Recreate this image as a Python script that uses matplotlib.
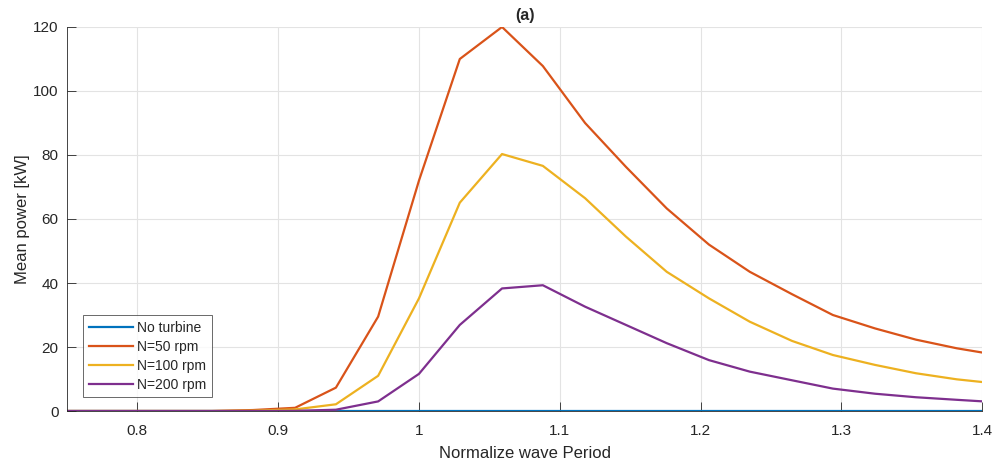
import matplotlib.pyplot as plt

plt.rcParams['font.family'] = ['Liberation Sans', 'DejaVu Sans']

# Normalized wave period (T / Tn)
period = [0.735, 0.765, 0.794, 0.824, 0.853, 0.882, 0.912, 0.941, 0.971,
          1.000, 1.029, 1.059, 1.088, 1.118, 1.147, 1.176, 1.206, 1.235,
          1.265, 1.294, 1.324, 1.353, 1.382, 1.412]

# Mean power [kW]
p_none = [0.0] * len(period)
p_50 = [0.0, 0.0, 0.0, 0.0, 0.0, 0.3, 1.0, 7.3, 29.5,
        72.0, 110.0, 120.0, 107.8, 90.0, 76.3, 63.3, 52.0, 43.5,
        36.5, 30.0, 25.8, 22.3, 19.6, 17.4]
p_100 = [0.0, 0.0, 0.0, 0.0, 0.0, 0.1, 0.5, 2.1, 11.0,
         35.2, 65.1, 80.3, 76.6, 66.5, 54.5, 43.5, 35.2, 27.9,
         21.9, 17.5, 14.4, 11.8, 9.9, 8.5]
p_200 = [0.0, 0.0, 0.0, 0.0, 0.0, 0.0, 0.05, 0.4, 3.0,
         11.6, 26.9, 38.3, 39.3, 32.6, 26.9, 21.2, 15.9, 12.3,
         9.6, 7.0, 5.4, 4.3, 3.5, 2.7]

labels = ['No turbine', 'N=50 rpm', 'N=100 rpm', 'N=200 rpm']
colors = ['#0072BD', '#D95319', '#EDB120', '#7E2F8E']

fig = plt.figure(figsize=(9.93, 4.63), dpi=100)
ax = fig.add_axes([0.0675, 0.1123, 0.9215, 0.8294])

for y, lab, c in zip([p_none, p_50, p_100, p_200], labels, colors):
    ax.plot(period, y, color=c, lw=1.6, label=lab)

ax.set_xlim(0.75, 1.4)
ax.set_ylim(0, 120)
ax.set_xticks([0.8, 0.9, 1.0, 1.1, 1.2, 1.3, 1.4])
ax.set_xticklabels(['0.8', '0.9', '1', '1.1', '1.2', '1.3', '1.4'])
ax.set_yticks(range(0, 121, 20))

ax.grid(True, color='#e3e3e3', lw=0.8)
ax.set_axisbelow(True)
for s in ['top', 'right']:
    ax.spines[s].set_visible(False)
for s in ['left', 'bottom']:
    ax.spines[s].set_color('#262626')
    ax.spines[s].set_linewidth(0.6)
ax.tick_params(direction='in', length=6.5, width=0.6, color='#262626',
               labelsize=11, labelcolor='#262626')
ax.tick_params(axis='x', pad=9)
ax.tick_params(axis='y', pad=6)

ax.set_xlabel('Normalize wave Period', fontsize=12, color='#262626', labelpad=6)
ax.set_ylabel('Mean power [kW]', fontsize=12, color='#262626', labelpad=2)
ax.set_title('(a)', fontsize=11.5, fontweight='bold', color='#262626', pad=5)

leg = ax.legend(loc='lower left', bbox_to_anchor=(0.0175, 0.036), fontsize=10,
                frameon=True, fancybox=False, handlelength=3.2,
                handletextpad=0.3, borderpad=0.4, labelspacing=0.35,
                borderaxespad=0)
leg.get_frame().set_edgecolor('#262626')
leg.get_frame().set_linewidth(0.6)
for t in leg.get_texts():
    t.set_color('#262626')

fig.savefig('out.png', dpi=100)
